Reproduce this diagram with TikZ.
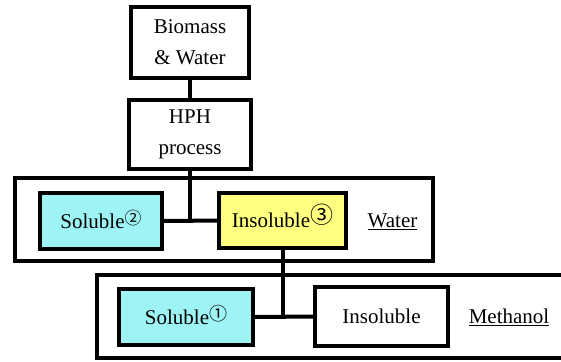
\documentclass[tikz,border=0pt]{standalone}
\usepackage{fontspec}
\setmainfont{Liberation Serif}
\newfontfamily\circfont{Noto Sans CJK JP}
\usetikzlibrary{positioning}
\definecolor{solcyan}{RGB}{158,244,244}
\definecolor{insyellow}{RGB}{255,255,128}
\newcommand{\circnum}[3]{\smash{\raisebox{#2}{\circfont\fontsize{#1}{#1}\selectfont #3}}}

\begin{document}
\begin{tikzpicture}[x=1pt,y=-1pt,line width=4pt,
  box/.style={draw,line width=4pt,align=center,inner sep=0pt},
  frame/.style={draw,line width=4pt},
  label/.style={inner sep=0pt}]
\useasboundingbox (0,0) rectangle (561,361);
\clip (0,0) rectangle (561,361);
\fontsize{21}{31}\selectfont
\node[box,minimum width=118pt,minimum height=71pt] (bio) at (190,42.5) {Biomass\\\& Water};
\node[box,minimum width=122pt,minimum height=69pt] (hph) at (190,134.5) {HPH\\process};
\draw[frame] (15,178) rectangle (433,261);
\node[box,fill=solcyan,minimum width=122pt,minimum height=56pt] (sol2) at (101,221) {Soluble\circnum{17}{4pt}{②}};
\node[box,fill=insyellow,minimum width=127pt,minimum height=55pt] (ins3) at (282.5,220.5) {Insoluble\circnum{23}{4pt}{③}};
\node[label] (water) at (392.5,222) {\underline{Water}};
\draw[frame] (97,275) rectangle (620,358);
\node[box,fill=solcyan,minimum width=134pt,minimum height=56pt] (sol1) at (186,317) {Soluble\circnum{18}{4pt}{①}};
\node[box,minimum width=133pt,minimum height=59pt] (ins) at (381.5,316.5) {Insoluble};
\node[label] (methanol) at (509,317) {\underline{Methanol}};
\draw (bio) -- (hph);
\draw (sol2) -- (ins3);
\draw (hph.south) -- (hph.south |- sol2.east);
\draw (sol1) -- (ins);
\draw (ins3.south) -- (ins3.south |- sol1.east);
\end{tikzpicture}
\end{document}
